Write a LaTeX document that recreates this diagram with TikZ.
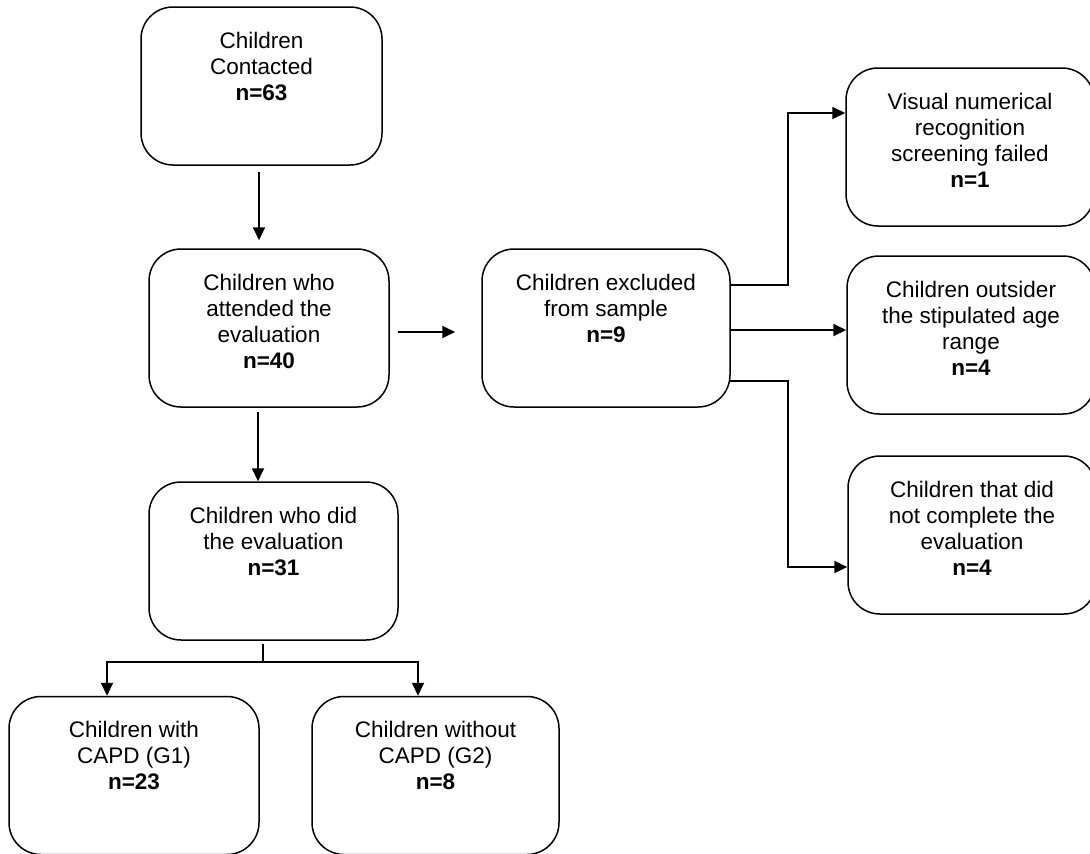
\documentclass[tikz,border=0pt]{standalone}
\usepackage{fontspec}
\setmainfont{Liberation Sans}
\usetikzlibrary{arrows.meta}
\newcommand{\stagetext}[1]{\parbox[c][158pt][t]{226pt}{\centering\vspace*{25pt}#1}}
\tikzset{
	stagebox/.style={draw, line width=1.5pt, rounded corners=32pt, inner sep=0, minimum height=158pt, font=\fontsize{22.5}{26}\selectfont},
	flow/.style={line width=1.8pt, -{Triangle[length=13pt, width=12pt]}},
	flowline/.style={line width=1.8pt}
}
\begin{document}
\begin{tikzpicture}[x=1pt, y=-1pt]
			\clip (0,0) rectangle (1090,854);
			\node (contacted) [stagebox, minimum width=241pt] at (261.5,86) {\stagetext{Children\\Contacted\\\textbf{n=63}}};
			\node (attended) [stagebox, minimum width=240pt] at (269,328) {\stagetext{Children who\\attended the\\evaluation\\\textbf{n=40}}};
			\node (did) [stagebox, minimum width=249pt] at (273.5,561) {\stagetext{Children who did\\the evaluation\\\textbf{n=31}}};
			\node (excluded) [stagebox, minimum width=248pt] at (606,328) {\stagetext{Children excluded\\from sample\\\textbf{n=9}}};
			\node (visual) [stagebox, minimum width=248pt] at (970,147) {\stagetext{Visual numerical\\recognition\\screening failed\\\textbf{n=1}}};
			\node (outsider) [stagebox, minimum width=248pt] at (971,335) {\stagetext{Children outsider\\the stipulated age\\range\\\textbf{n=4}}};
			\node (notdone) [stagebox, minimum width=248pt] at (972,535) {\stagetext{Children that did\\not complete the\\evaluation\\\textbf{n=4}}};
			\node (withcapd) [stagebox, minimum width=250pt] at (134,775.5) {\stagetext{Children with\\CAPD (G1)\\\textbf{n=23}}};
			\node (withoutcapd) [stagebox, minimum width=247pt] at (435.5,775.5) {\stagetext{Children without\\CAPD (G2)\\\textbf{n=8}}};
			\coordinate (c1) at (259,172);
			\coordinate (c2) at (258,412);
			\coordinate (c3) at (398,332);
			\coordinate (e1) at (730,285);
			\coordinate (e2) at (730,330);
			\coordinate (e3) at (730,381);
			\coordinate (split) at (263,662);
			\draw[flow] (c1) -- ([yshift=8pt]c1 |- attended.north);
			\draw[flow] (c2) -- (c2 |- did.north);
			\draw[flow] (c3) -- ([xshift=-26pt]c3 -| excluded.west);
			\draw[flow] (e1) -| (788,113) -- (visual.west |- 0,113);
			\draw[flow] (e2) -- (e2 -| outsider.west);
			\draw[flow] (e3) -| (788,567) -- (notdone.west |- 0,567);
			\draw[flowline] (263,644) -- (split);
			\draw[flow] (split) -| (107,0 |- withcapd.north);
			\draw[flow] (split) -| (418,0 |- withoutcapd.north);

		\end{tikzpicture}
\end{document}
